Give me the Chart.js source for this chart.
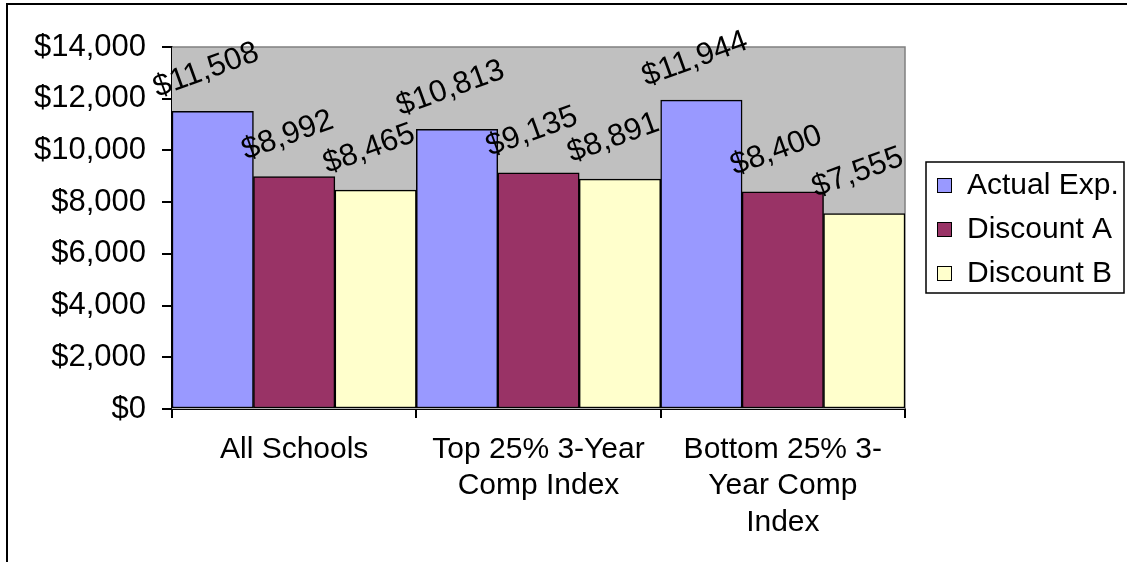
<!DOCTYPE html>
<html>
<head>
<meta charset="utf-8">
<script src="https://cdn.jsdelivr.net/npm/chart.js@4/dist/chart.umd.min.js"></script>
<style>
  html, body { margin: 0; padding: 0; background: #fff; overflow: hidden; }
  #frame { position: absolute; left: 6px; top: 3px; width: 1300px; height: 800px; border: 2px solid #000; }
  #wrap  { position: absolute; left: 0; top: 0; width: 1127px; height: 562px; }
</style>
</head>
<body>
<div id="frame"></div>
<div id="wrap"><canvas id="chart" width="1127" height="562"></canvas></div>
<script>
// data
const categories = [['All Schools'], ['Top 25% 3-Year', 'Comp Index'], ['Bottom 25% 3-', 'Year Comp', 'Index']]
const seriesNames = ['Actual Exp.', 'Discount A', 'Discount B']
const actualExp  = [11508, 10813, 11944]
const discountA  = [8992, 9135, 8400]
const discountB  = [8465, 8891, 7555]
const yTicks     = [0, 2000, 4000, 6000, 8000, 10000, 12000, 14000]

const fmtMoney = v => '$' + v.toLocaleString('en-US')
const mainFont = 'Arial, "Liberation Sans", sans-serif'

// gray plot background + gray top/right edge
const plotBg = {
  id: 'plotBg',
  beforeDatasetsDraw(chart) {
    const { ctx, chartArea: a } = chart
    ctx.save()
    ctx.fillStyle = '#C0C0C0'
    ctx.fillRect(a.left, a.top, a.right - a.left, a.bottom - a.top)
    ctx.strokeStyle = '#808080'
    ctx.lineWidth = 1.5
    ctx.beginPath()
    ctx.moveTo(a.left, a.top)
    ctx.lineTo(a.right, a.top)
    ctx.lineTo(a.right, a.bottom)
    ctx.stroke()
    ctx.restore()
  }
}

// rotated value labels above each bar
const valueLabels = {
  id: 'valueLabels',
  afterDatasetsDraw(chart) {
    const { ctx } = chart
    ctx.save()
    ctx.font = '31px ' + mainFont
    ctx.fillStyle = '#000'
    ctx.textAlign = 'center'
    ctx.textBaseline = 'middle'
    chart.data.datasets.forEach((ds, i) => {
      chart.getDatasetMeta(i).data.forEach((bar, j) => {
        ctx.save()
        ctx.translate(bar.x - 6.5, bar.y - 41)
        ctx.rotate(-20 * Math.PI / 180)
        ctx.fillText(fmtMoney(ds.data[j]), 0, 0)
        ctx.restore()
      })
    })
    ctx.restore()
  }
}

// boxed legend on the right
const boxLegend = {
  id: 'boxLegend',
  afterDraw(chart) {
    const { ctx } = chart
    const x = 926, y = 162, w = 198, h = 131
    ctx.save()
    ctx.fillStyle = '#fff'
    ctx.fillRect(x, y, w, h)
    ctx.strokeStyle = '#000'
    ctx.lineWidth = 1.5
    ctx.strokeRect(x, y, w, h)
    ctx.font = '30px ' + mainFont
    ctx.textBaseline = 'middle'
    chart.data.datasets.forEach((ds, i) => {
      const cy = y + 23 + i * 44
      ctx.fillStyle = ds.backgroundColor
      ctx.fillRect(x + 11, cy - 7, 15, 15)
      ctx.lineWidth = 1
      ctx.strokeRect(x + 11.5, cy - 6.5, 14, 14)
      ctx.fillStyle = '#000'
      ctx.fillText(ds.label, x + 41, cy + 1)
    })
    ctx.restore()
  }
}

const barStyle = { borderColor: '#000', borderWidth: 1.5, borderSkipped: false, barPercentage: 1, categoryPercentage: 1 }

new Chart(document.getElementById('chart'), {
  type: 'bar',
  data: {
    labels: categories,
    datasets: [
      { label: seriesNames[0], data: actualExp, backgroundColor: '#9999FF', ...barStyle },
      { label: seriesNames[1], data: discountA, backgroundColor: '#993366', ...barStyle },
      { label: seriesNames[2], data: discountB, backgroundColor: '#FFFFCC', ...barStyle }
    ]
  },
  options: {
    responsive: false,
    animation: false,
    layout: { padding: { top: 47, right: 222, left: 0, bottom: 0 } },
    plugins: { legend: { display: false }, tooltip: { enabled: false } },
    scales: {
      y: {
        min: 0,
        max: 14000,
        afterBuildTicks: s => { s.ticks = yTicks.map(v => ({ value: v })) },
        afterFit: s => { s.width = 172 },
        ticks: { callback: v => fmtMoney(v), color: '#000', padding: 16, font: { family: mainFont, size: 31 } },
        grid: { drawOnChartArea: false, drawTicks: true, tickLength: 10, color: '#000', lineWidth: 2 },
        border: { color: '#000', width: 2 }
      },
      x: {
        afterFit: s => { s.height = 153 },
        ticks: {
          color: '#000', padding: 13, maxRotation: 0, autoSkip: false,
          font: { family: mainFont, size: 30, lineHeight: 1.217 }
        },
        grid: { drawOnChartArea: false, drawTicks: true, tickLength: 9, color: '#000', lineWidth: 2, offset: true },
        border: { color: '#000', width: 2 }
      }
    }
  },
  plugins: [plotBg, valueLabels, boxLegend]
})
</script>
</body>
</html>
